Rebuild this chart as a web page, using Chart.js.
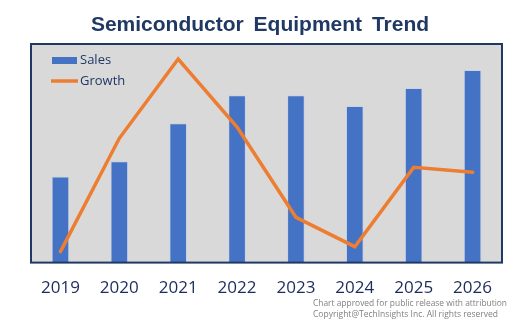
<!DOCTYPE html>
<html>
<head>
<meta charset="utf-8">
<script src="https://cdn.jsdelivr.net/npm/chart.js@4/dist/chart.umd.min.js"></script>
<style>
  html, body { margin: 0; padding: 0; background: #ffffff; }
  #wrap { position: relative; width: 520px; height: 334px; }
</style>
</head>
<body>
<div id="wrap"><canvas id="trendChart" width="520" height="334"></canvas></div>
<script>
// Chart data
const years = ['2019', '2020', '2021', '2022', '2023', '2024', '2025', '2026'];
const sales = [47.3, 55.6, 76.5, 91.9, 91.9, 85.9, 95.8, 105.7];   // $B (estimated)
const growth = [-16.5, 19.8, 45.2, 23.4, -5.5, -14.9, 10.5, 8.9];  // % YoY (estimated)

const titleText = 'Semiconductor Equipment Trend';
const footnotes = [
    'Chart approved for public release with attribution',
    'Copyright@TechInsights Inc. All rights reserved'
];

const navy = '#1f3864';
const barBlue = '#4472c4';
const lineOrange = '#ed7d31';

// Plot background, border, title, legend and footnote
const decorPlugin = {
    id: 'decor',
    beforeDatasetsDraw(chart) {
        const { ctx, chartArea: a } = chart;
        ctx.save();
        ctx.fillStyle = '#d9d9d9';
        ctx.fillRect(a.left, a.top, a.right - a.left, a.bottom - a.top);
        ctx.restore();
    },
    afterDraw(chart) {
        const { ctx, chartArea: a } = chart;
        ctx.save();
        // plot border
        ctx.strokeStyle = navy;
        ctx.lineWidth = 2;
        ctx.strokeRect(a.left, a.top, a.right - a.left, a.bottom - a.top);

        // title
        ctx.fillStyle = navy;
        ctx.font = 'bold 21px "Liberation Sans", Arial, sans-serif';
        ctx.wordSpacing = '4px';
        ctx.textAlign = 'center';
        ctx.textBaseline = 'alphabetic';
        ctx.fillText(titleText, 260, 31);
        ctx.wordSpacing = '0px';

        // legend
        ctx.textAlign = 'left';
        ctx.textBaseline = 'middle';
        ctx.font = '13px "Open Sans", sans-serif';
        ctx.fillStyle = barBlue;
        ctx.fillRect(52, 57, 25, 7);
        ctx.fillStyle = navy;
        ctx.fillText('Sales', 80, 60);
        ctx.strokeStyle = lineOrange;
        ctx.lineWidth = 3.5;
        ctx.beginPath();
        ctx.moveTo(51, 81);
        ctx.lineTo(78, 81);
        ctx.stroke();
        ctx.fillStyle = navy;
        ctx.fillText('Growth', 80, 81);

        // footnote
        ctx.fillStyle = '#808080';
        ctx.font = '9px "Open Sans", sans-serif';
        ctx.textBaseline = 'alphabetic';
        ctx.fillText(footnotes[0], 313, 306, 194);
        ctx.fillText(footnotes[1], 313, 316.5, 185);
        ctx.restore();
    }
};

const ctx = document.getElementById('trendChart').getContext('2d');
const trendChart = new Chart(ctx, {
    data: {
        labels: years,
        datasets: [
            {
                type: 'line',
                label: 'Growth',
                data: growth,
                yAxisID: 'y2',
                borderColor: lineOrange,
                borderWidth: 3.5,
                pointRadius: 0,
                tension: 0,
                borderCapStyle: 'round',
                borderJoinStyle: 'miter',
                order: 0
            },
            {
                type: 'bar',
                label: 'Sales',
                data: sales,
                yAxisID: 'y',
                backgroundColor: barBlue,
                borderColor: '#c9d3e6',
                borderWidth: 1,
                barPercentage: 0.3,
                categoryPercentage: 1,
                order: 1
            }
        ]
    },
    options: {
        responsive: false,
        animation: false,
        layout: {
            padding: { left: 31, right: 18, top: 44, bottom: 21 }
        },
        plugins: {
            legend: { display: false },
            title: { display: false },
            tooltip: { enabled: false }
        },
        scales: {
            x: {
                grid: { display: false, drawTicks: false },
                border: { display: false },
                ticks: {
                    color: '#1c2b5a',
                    padding: 15,
                    font: { family: '"Open Sans", sans-serif', size: 17 }
                }
            },
            y: {
                display: false,
                min: 0,
                max: 120
            },
            y2: {
                display: false,
                min: -20,
                max: 50
            }
        }
    },
    plugins: [decorPlugin]
});
</script>
</body>
</html>
